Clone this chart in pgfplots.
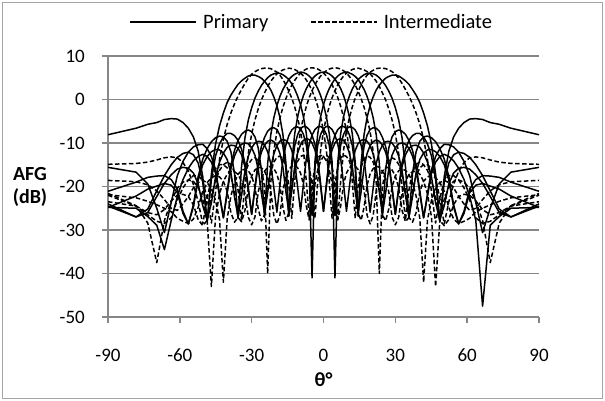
\documentclass[border=0pt]{standalone}
\usepackage{fontspec}
\setmainfont{Carlito}
\usepackage{pgfplots}
\usepackage{pgfplotstable}
\pgfplotsset{compat=1.18}
\definecolor{gridc}{RGB}{134,134,134}
\definecolor{framec}{RGB}{165,165,165}
\pgfplotstableread{
th k0 k1 k2 k3 km1 km2 km3 d4 d12 d20 dm4 dm12 dm20
-90 -24.0 -21.1 -15.6 -8.1 -24.8 -24.8 -24.5 -18.6 -21.6 -14.9 -21.9 -23.5 -22.0
-78.28 -27.0 -19.0 -16.7 -6.6 -25.0 -22.2 -27.0 -18.9 -24.4 -14.7 -22.6 -24.5 -24.5
-73.40 -26.0 -17.9 -19.4 -5.7 -26.9 -20.6 -25.2 -19.6 -28.4 -14.4 -23.4 -26.0 -26.5
-69.64 -22.3 -17.6 -25.0 -5.3 -28.9 -19.9 -21.0 -21.0 -37.5 -13.9 -24.2 -26.5 -28.0
-66.44 -19.3 -17.5 -30.6 -4.6 -34.5 -19.3 -17.5 -23.0 -27.8 -13.4 -25.0 -25.3 -28.5
-63.60 -17.3 -18.4 -23.7 -4.4 -27.8 -19.7 -15.0 -25.0 -23.4 -13.2 -25.8 -23.3 -27.2
-61.05 -16.0 -20.6 -17.5 -4.5 -22.3 -21.4 -13.3 -25.5 -20.4 -13.4 -27.3 -22.0 -23.1
-58.67 -15.6 -25.7 -14.2 -5.3 -18.4 -26.2 -12.4 -24.0 -19.0 -14.5 -28.0 -21.8 -20.3
-56.44 -15.8 -28.6 -12.1 -6.6 -15.8 -28.6 -12.1 -22.3 -18.5 -16.5 -28.5 -22.3 -18.5
-54.34 -16.9 -24.7 -10.9 -8.6 -14.1 -24.2 -12.7 -20.3 -18.8 -19.5 -27.5 -24.2 -17.5
-52.34 -19.4 -18.5 -10.4 -11.9 -13.1 -17.7 -14.6 -19.1 -20.2 -23.5 -24.8 -27.6 -17.5
-50.43 -24.4 -15.0 -10.3 -17.7 -12.6 -13.7 -19.0 -18.6 -22.9 -28.6 -21.1 -29.0 -18.7
-48.59 -27.7 -13.1 -11.3 -28.1 -13.1 -11.3 -28.1 -19.1 -27.8 -22.7 -19.1 -27.8 -22.7
-46.82 -23.8 -12.0 -13.1 -18.4 -14.4 -9.7 -17.1 -20.5 -43.0 -18.1 -18.0 -22.3 -28.4
-45.10 -17.8 -11.5 -16.1 -13.0 -16.9 -8.8 -10.3 -23.2 -27.0 -15.9 -17.5 -18.6 -21.3
-43.43 -14.4 -11.6 -21.7 -10.2 -22.2 -8.4 -6.1 -27.6 -21.7 -15.0 -17.8 -16.3 -13.8
-41.81 -12.3 -12.3 -27.2 -8.6 -27.2 -8.6 -3.1 -42.0 -18.8 -15.0 -18.8 -15.0 -9.1
-40.23 -11.0 -13.8 -21.6 -7.8 -21.1 -9.6 -0.7 -27.4 -17.2 -15.7 -21.1 -14.4 -5.7
-38.68 -10.5 -16.8 -15.9 -7.8 -15.1 -12.0 1.0 -22.2 -16.5 -17.6 -26.0 -14.9 -3.1
-37.17 -10.6 -22.4 -13.0 -8.3 -11.7 -17.0 2.3 -19.1 -16.6 -20.9 -28.2 -16.7 -1.0
-35.69 -11.2 -26.9 -11.2 -9.4 -9.4 -27.4 3.5 -17.2 -17.2 -27.1 -27.1 -20.8 0.8
-34.23 -12.7 -22.1 -10.3 -11.4 -8.0 -15.4 4.3 -16.3 -18.8 -28.1 -20.6 -27.7 2.3
-32.80 -15.4 -16.3 -10.0 -14.6 -7.3 -8.8 4.9 -16.0 -21.7 -25.5 -17.1 -19.8 3.7
-31.39 -20.8 -13.0 -10.2 -20.3 -7.0 -4.7 5.4 -16.4 -27.1 -20.3 -14.9 -12.4 4.9
-30.00 -26.4 -11.1 -11.1 -26.4 -7.4 -1.9 5.6 -17.6 -28.8 -17.6 -13.8 -7.9 5.8
-28.63 -20.1 -10.0 -12.8 -20.6 -8.6 0.3 5.6 -20.1 -27.0 -16.2 -13.4 -4.7 6.4
-27.28 -14.2 -9.6 -15.9 -15.0 -11.1 1.9 5.3 -25.1 -21.3 -15.6 -14.0 -2.2 6.8
-25.94 -10.8 -9.7 -21.5 -12.1 -16.1 3.2 4.9 -27.9 -18.2 -15.7 -15.8 -0.1 7.1
-24.62 -8.7 -10.5 -26.2 -10.5 -27.1 4.2 4.2 -26.5 -16.5 -16.5 -20.1 1.5 7.2
-23.32 -7.3 -12.0 -21.4 -9.6 -14.7 5.0 3.3 -19.9 -15.6 -18.1 -40.0 3.0 7.2
-22.02 -6.6 -14.7 -15.6 -9.3 -8.1 5.6 2.2 -16.4 -15.3 -21.0 -19.1 4.2 7.1
-20.74 -6.5 -20.3 -12.5 -9.7 -4.2 5.9 0.6 -14.4 -15.9 -26.7 -11.9 5.1 6.7
-19.47 -6.9 -25.9 -10.6 -10.6 -1.4 6.1 -1.4 -13.3 -17.1 -28.6 -7.4 5.9 6.3
-18.21 -8.2 -19.7 -9.6 -12.4 0.7 6.0 -4.1 -13.0 -19.7 -26.6 -4.3 6.4 5.6
-16.96 -10.7 -13.8 -9.2 -15.5 2.3 5.7 -8.0 -13.6 -24.7 -20.9 -1.8 6.8 4.6
-15.71 -15.8 -10.5 -9.4 -21.2 3.5 5.2 -14.5 -15.5 -27.8 -17.9 0.2 7.0 3.4
-14.48 -26.8 -8.3 -10.1 -25.8 4.6 4.6 -26.8 -19.7 -26.1 -16.1 1.9 7.2 1.9
-13.25 -14.4 -7.0 -11.7 -21.1 5.3 3.6 -15.7 -27.3 -19.6 -15.3 3.3 7.1 0.3
-12.03 -7.9 -6.4 -14.5 -15.4 5.8 2.4 -10.6 -18.9 -16.2 -15.1 4.4 6.9 -1.7
-10.81 -4.0 -6.3 -20.1 -12.3 6.1 0.8 -8.1 -11.7 -14.2 -15.7 5.3 6.5 -4.2
-9.59 -1.2 -6.7 -25.7 -10.4 6.3 -1.2 -6.7 -7.2 -13.1 -16.9 6.1 6.1 -7.2
-8.39 0.9 -8.0 -19.5 -9.4 6.2 -3.9 -6.2 -4.1 -12.8 -19.5 6.6 5.4 -11.6
-7.18 2.5 -10.5 -13.6 -9.0 5.9 -7.8 -6.3 -1.6 -13.4 -24.5 7.0 4.5 -18.8
-5.98 3.7 -15.6 -10.3 -9.2 5.4 -14.3 -6.9 0.4 -15.3 -27.7 7.2 3.4 -27.3
-4.78 4.7 -41.0 -8.2 -10.0 4.7 -26.7 -8.2 2.0 -19.6 -26.0 7.3 2.0 -19.6
-3.58 5.4 -14.3 -6.9 -11.6 3.7 -15.6 -10.3 3.4 -27.3 -19.5 7.2 0.4 -15.3
-2.39 5.9 -7.8 -6.3 -14.4 2.5 -10.5 -13.6 4.5 -18.8 -16.1 7.0 -1.6 -13.4
-1.19 6.2 -3.9 -6.2 -20.0 0.9 -8.0 -19.5 5.4 -11.6 -14.1 6.6 -4.1 -12.8
0 6.3 -1.2 -6.7 -25.7 -1.2 -6.7 -25.7 6.1 -7.2 -13.1 6.1 -7.2 -13.1
1.19 6.2 0.9 -8.0 -19.5 -3.9 -6.2 -20.0 6.6 -4.1 -12.8 5.4 -11.6 -14.1
2.39 5.9 2.5 -10.5 -13.6 -7.8 -6.3 -14.4 7.0 -1.6 -13.4 4.5 -18.8 -16.1
3.58 5.4 3.7 -15.6 -10.3 -14.3 -6.9 -11.6 7.2 0.4 -15.3 3.4 -27.3 -19.5
4.78 4.7 4.7 -26.7 -8.2 -41.0 -8.2 -10.0 7.3 2.0 -19.6 2.0 -19.6 -26.0
5.98 3.7 5.4 -14.3 -6.9 -15.6 -10.3 -9.2 7.2 3.4 -27.3 0.4 -15.3 -27.7
7.18 2.5 5.9 -7.8 -6.3 -10.5 -13.6 -9.0 7.0 4.5 -18.8 -1.6 -13.4 -24.5
8.39 0.9 6.2 -3.9 -6.2 -8.0 -19.5 -9.4 6.6 5.4 -11.6 -4.1 -12.8 -19.5
9.59 -1.2 6.3 -1.2 -6.7 -6.7 -25.7 -10.4 6.1 6.1 -7.2 -7.2 -13.1 -16.9
10.81 -4.0 6.1 0.8 -8.1 -6.3 -20.1 -12.3 5.3 6.5 -4.2 -11.7 -14.2 -15.7
12.03 -7.9 5.8 2.4 -10.6 -6.4 -14.5 -15.4 4.4 6.9 -1.7 -18.9 -16.2 -15.1
13.25 -14.4 5.3 3.6 -15.7 -7.0 -11.7 -21.1 3.3 7.1 0.3 -27.3 -19.6 -15.3
14.48 -26.8 4.6 4.6 -26.8 -8.3 -10.1 -25.8 1.9 7.2 1.9 -19.7 -26.1 -16.1
15.71 -15.8 3.5 5.2 -14.5 -10.5 -9.4 -21.2 0.2 7.0 3.4 -15.5 -27.8 -17.9
16.96 -10.7 2.3 5.7 -8.0 -13.8 -9.2 -15.5 -1.8 6.8 4.6 -13.6 -24.7 -20.9
18.21 -8.2 0.7 6.0 -4.1 -19.7 -9.6 -12.4 -4.3 6.4 5.6 -13.0 -19.7 -26.6
19.47 -6.9 -1.4 6.1 -1.4 -25.9 -10.6 -10.6 -7.4 5.9 6.3 -13.3 -17.1 -28.6
20.74 -6.5 -4.2 5.9 0.6 -20.3 -12.5 -9.7 -11.9 5.1 6.7 -14.4 -15.9 -26.7
22.02 -6.6 -8.1 5.6 2.2 -14.7 -15.6 -9.3 -19.1 4.2 7.1 -16.4 -15.3 -21.0
23.32 -7.3 -14.7 5.0 3.3 -12.0 -21.4 -9.6 -40.0 3.0 7.2 -19.9 -15.6 -18.1
24.62 -8.7 -27.1 4.2 4.2 -10.5 -26.2 -10.5 -20.1 1.5 7.2 -26.5 -16.5 -16.5
25.94 -10.8 -16.1 3.2 4.9 -9.7 -21.5 -12.1 -15.8 -0.1 7.1 -27.9 -18.2 -15.7
27.28 -14.2 -11.1 1.9 5.3 -9.6 -15.9 -15.0 -14.0 -2.2 6.8 -25.1 -21.3 -15.6
28.63 -20.1 -8.6 0.3 5.6 -10.0 -12.8 -20.6 -13.4 -4.7 6.4 -20.1 -27.0 -16.2
30.00 -26.4 -7.4 -1.9 5.6 -11.1 -11.1 -26.4 -13.8 -7.9 5.8 -17.6 -28.8 -17.6
31.39 -20.8 -7.0 -4.7 5.4 -13.0 -10.2 -20.3 -14.9 -12.4 4.9 -16.4 -27.1 -20.3
32.80 -15.4 -7.3 -8.8 4.9 -16.3 -10.0 -14.6 -17.1 -19.8 3.7 -16.0 -21.7 -25.5
34.23 -12.7 -8.0 -15.4 4.3 -22.1 -10.3 -11.4 -20.6 -27.7 2.3 -16.3 -18.8 -28.1
35.69 -11.2 -9.4 -27.4 3.5 -26.9 -11.2 -9.4 -27.1 -20.8 0.8 -17.2 -17.2 -27.1
37.17 -10.6 -11.7 -17.0 2.3 -22.4 -13.0 -8.3 -28.2 -16.7 -1.0 -19.1 -16.6 -20.9
38.68 -10.5 -15.1 -12.0 1.0 -16.8 -15.9 -7.8 -26.0 -14.9 -3.1 -22.2 -16.5 -17.6
40.23 -11.0 -21.1 -9.6 -0.7 -13.8 -21.6 -7.8 -21.1 -14.4 -5.7 -27.4 -17.2 -15.7
41.81 -12.3 -27.2 -8.6 -3.1 -12.3 -27.2 -8.6 -18.8 -15.0 -9.1 -42.0 -18.8 -15.0
43.43 -14.4 -22.2 -8.4 -6.1 -11.6 -21.7 -10.2 -17.8 -16.3 -13.8 -27.6 -21.7 -15.0
45.10 -17.8 -16.9 -8.8 -10.3 -11.5 -16.1 -13.0 -17.5 -18.6 -21.3 -23.2 -27.0 -15.9
46.82 -23.8 -14.4 -9.7 -17.1 -12.0 -13.1 -18.4 -18.0 -22.3 -28.4 -20.5 -43.0 -18.1
48.59 -27.7 -13.1 -11.3 -28.1 -13.1 -11.3 -28.1 -19.1 -27.8 -22.7 -19.1 -27.8 -22.7
50.43 -24.4 -12.6 -13.7 -19.0 -15.0 -10.3 -17.7 -21.1 -29.0 -18.7 -18.6 -22.9 -28.6
52.34 -19.4 -13.1 -17.7 -14.6 -18.5 -10.4 -11.9 -24.8 -27.6 -17.5 -19.1 -20.2 -23.5
54.34 -16.9 -14.1 -24.2 -12.7 -24.7 -10.9 -8.6 -27.5 -24.2 -17.5 -20.3 -18.8 -19.5
56.44 -15.8 -15.8 -28.6 -12.1 -28.6 -12.1 -6.6 -28.5 -22.3 -18.5 -22.3 -18.5 -16.5
58.67 -15.6 -18.4 -26.2 -12.4 -25.7 -14.2 -5.3 -28.0 -21.8 -20.3 -24.0 -19.0 -14.5
61.05 -16.0 -22.3 -21.4 -13.3 -20.6 -17.5 -4.5 -27.3 -22.0 -23.1 -25.5 -20.4 -13.4
63.60 -17.3 -27.8 -19.7 -15.0 -18.4 -23.7 -4.4 -25.8 -23.3 -27.2 -25.0 -23.4 -13.2
66.44 -19.3 -47.5 -19.3 -17.5 -17.5 -30.6 -4.6 -25.0 -25.3 -28.5 -23.0 -27.8 -13.4
69.64 -22.3 -28.9 -19.9 -21.0 -17.6 -25.0 -5.3 -24.2 -26.5 -28.0 -21.0 -37.5 -13.9
73.40 -26.0 -26.9 -20.6 -25.2 -17.9 -19.4 -5.7 -23.4 -26.0 -26.5 -19.6 -28.4 -14.4
78.28 -27.0 -25.0 -22.2 -27.0 -19.0 -16.7 -6.6 -22.6 -24.5 -24.5 -18.9 -24.4 -14.7
90 -24.0 -24.8 -24.8 -24.5 -21.1 -15.6 -8.1 -21.9 -23.5 -22.0 -18.6 -21.6 -14.9
}\data
\begin{document}
\begin{tikzpicture}
\useasboundingbox (0,0) rectangle (605bp,401bp);
\draw[framec, line width=1.3bp] (2.5bp,2.5bp) rectangle (602.5bp,398.5bp);
\begin{axis}[
  at={(108bp,84bp)}, anchor=south west,
  scale only axis, width=431bp, height=261bp,
  xmin=-90, xmax=90, ymin=-50, ymax=10,
  axis x line*=bottom, axis y line*=left,
  axis line style={gridc, line width=1.5bp},
  xtick={-90,-60,-30,0,30,60,90},
  ytick={-50,-40,-30,-20,-10,0,10},
  xticklabels={-90,-60,-30,0,30,60,90},
  yticklabels={-50,-40,-30,-20,-10,0,10},
  tick align=outside, major tick length=6bp,
  tick style={gridc, line width=1.5bp},
  ymajorgrids, grid style={gridc, line width=1.5bp},
  ticklabel style={font=\fontsize{19bp}{22bp}\selectfont, inner sep=0pt},
  xticklabel style={anchor=center, yshift=-32bp},
  yticklabel style={anchor=east, xshift=-17bp},
  xlabel={θ°},
  xlabel style={at={(axis description cs:0.5,-0.241)}, anchor=center, font=\fontsize{20bp}{24bp}\selectfont\bfseries},
  ylabel={AFG\\(dB)},
  ylabel style={at={(axis description cs:-0.181,0.498)}, anchor=center, rotate=-90, align=center, font=\fontsize{20bp}{23bp}\selectfont\bfseries},
  legend style={draw=none, fill=none, at={(0.473,1.13)}, anchor=center, legend columns=2,
    font=\fontsize{20.5bp}{24bp}\selectfont,
    /tikz/every odd column/.append style={column sep=4bp},
    /tikz/every even column/.append style={column sep=40bp}},
  legend image code/.code={\draw[#1] (0bp,0bp) -- (66bp,0bp);},
  every axis plot/.append style={black, line width=1.5bp, line join=round},
]
\addplot[solid] table[x=th,y=k0]{\data}; \addlegendentry{Primary}
\addplot[dash pattern=on 4.5bp off 2.5bp] table[x=th,y=d4]{\data}; \addlegendentry{Intermediate}
\addplot[solid, forget plot] table[x=th,y=k1]{\data};
\addplot[solid, forget plot] table[x=th,y=k2]{\data};
\addplot[solid, forget plot] table[x=th,y=k3]{\data};
\addplot[solid, forget plot] table[x=th,y=km1]{\data};
\addplot[solid, forget plot] table[x=th,y=km2]{\data};
\addplot[solid, forget plot] table[x=th,y=km3]{\data};
\addplot[dash pattern=on 4.5bp off 2.5bp, forget plot] table[x=th,y=d12]{\data};
\addplot[dash pattern=on 4.5bp off 2.5bp, forget plot] table[x=th,y=d20]{\data};
\addplot[dash pattern=on 4.5bp off 2.5bp, forget plot] table[x=th,y=dm4]{\data};
\addplot[dash pattern=on 4.5bp off 2.5bp, forget plot] table[x=th,y=dm12]{\data};
\addplot[dash pattern=on 4.5bp off 2.5bp, forget plot] table[x=th,y=dm20]{\data};
\end{axis}
\end{tikzpicture}
\end{document}
